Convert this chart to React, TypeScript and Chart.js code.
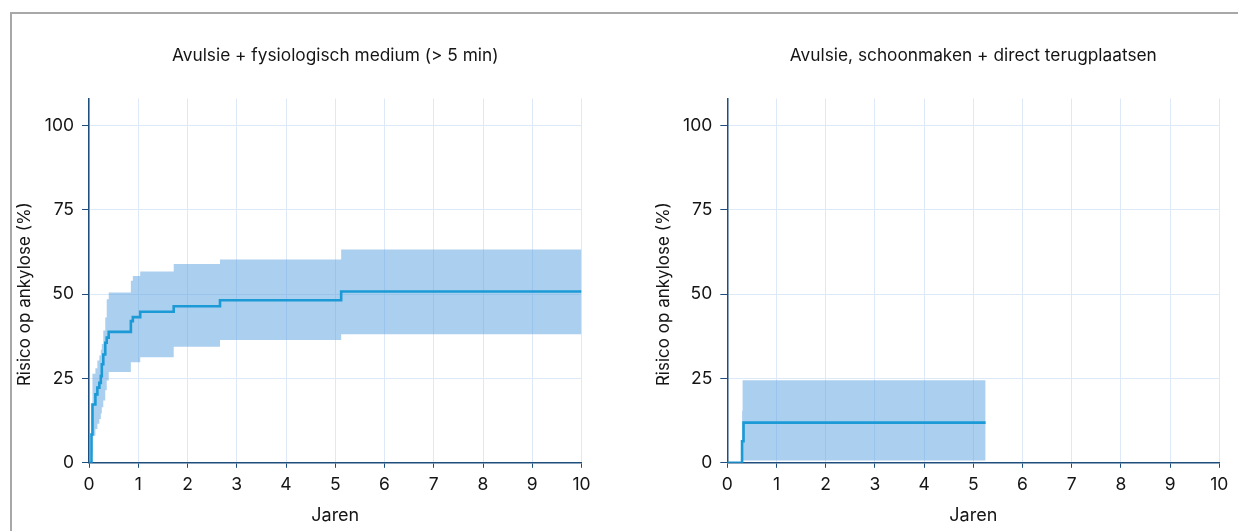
import React, { useEffect, useRef } from "react";
import { Chart, registerables } from "chart.js";

Chart.register(...registerables);

// ---------- data ----------
const xTicks = [0, 1, 2, 3, 4, 5, 6, 7, 8, 9, 10];
const yTicks = [0, 25, 50, 75, 100];

const titleA = "Avulsie + fysiologisch medium (> 5 min)";
const titleB = "Avulsie, schoonmaken + direct terugplaatsen";
const yTitle = "Risico op ankylose (%)";
const xTitle = "Jaren";

// Panel A: cumulative risk (step function)
const timesA = [0, 0.05, 0.07, 0.13, 0.17, 0.21, 0.24, 0.26, 0.29, 0.33, 0.36, 0.4, 0.85, 0.89, 1.04, 1.72, 2.66, 5.12, 10];
const riskA = [0, 8.4, 17.3, 20.3, 22.3, 23.7, 25.7, 29.2, 32.1, 35.6, 37.1, 38.8, 42.0, 43.2, 44.8, 46.4, 48.2, 50.8, 50.8];
// Panel A: confidence band
const bandTimesA = [0.05, 0.07, 0.13, 0.17, 0.21, 0.24, 0.26, 0.29, 0.33, 0.36, 0.4, 0.85, 0.89, 1.04, 1.72, 2.66, 5.12, 10];
const upperA = [13, 26.4, 28, 30.3, 31.8, 33.5, 35.2, 39.2, 43.1, 48.5, 50.5, 54, 55.4, 56.7, 58.9, 60.3, 63.2, 63.2];
const lowerA = [3, 8, 10, 11.6, 13, 14.6, 16.5, 18.5, 21.5, 24.4, 26.9, 29.8, 29.8, 31.3, 34.4, 36.4, 38.1, 38.1];

// Panel B
const timesB = [0, 0.3, 0.33, 5.25];
const riskB = [0, 6.4, 11.9, 11.9];
const bandTimesB = [0.3, 0.31, 5.25];
const upperB = [15.4, 24.5, 24.5];
const lowerB = [0.7, 0.7, 0.7];

// ---------- style ----------
const FONT = "Inter, 'Liberation Sans', Arial, sans-serif";
const LINE = "#1b9ad6";
const BAND = "rgba(88,160,224,0.5)";
const AXIS = "#1d4e7e";
const GRID = "#dde9f6";
const TEXT = "#151515";

type PanelProps = {
  left: number;
  width: number;
  areaLeft: number;
  areaRight: number;
  yTitleX: number;
  title: string;
  times: number[];
  risk: number[];
  bandTimes: number[];
  upper: number[];
  lower: number[];
};

const H = 531;
const AREA_TOP = 98.5;
const AREA_BOTTOM = 462.8;
const Y_AXIS_W = 50;
const X_AXIS_H = 45;

function Panel(p: PanelProps) {
  const ref = useRef<HTMLCanvasElement | null>(null);
  useEffect(() => {
    if (!ref.current) return;
    const pts = (xs: number[], ys: number[]) => xs.map((x, i) => ({ x, y: ys[i] }));
    const textPlugin = {
      id: "panelText",
      afterDraw(chart: any) {
        const ctx = chart.ctx;
        const a = chart.chartArea;
        const cx = (a.left + a.right) / 2;
        ctx.save();
        ctx.fillStyle = TEXT;
        ctx.textAlign = "center";
        ctx.textBaseline = "middle";
        ctx.font = `17.3px ${FONT}`;
        ctx.fillText(p.title, cx, 56);
        ctx.font = `18px ${FONT}`;
        ctx.fillText(xTitle, cx, 516);
        ctx.font = `17px ${FONT}`;
        const yc = chart.scales.y.getPixelForValue(50);
        ctx.translate(p.yTitleX, yc);
        ctx.rotate(-Math.PI / 2);
        ctx.fillText(yTitle, 0, 0);
        ctx.restore();
      },
    };
    const chart = new Chart(ref.current, {
      type: "line",
      data: {
        datasets: [
          {
            data: pts(p.times, p.risk),
            borderColor: LINE,
            borderWidth: 2.6,
            stepped: "before",
            pointRadius: 0,
            fill: false,
          },
          {
            data: pts(p.bandTimes, p.upper),
            borderWidth: 0,
            borderColor: "rgba(0,0,0,0)",
            backgroundColor: BAND,
            stepped: "before",
            pointRadius: 0,
            fill: "+1",
          },
          {
            data: pts(p.bandTimes, p.lower),
            borderWidth: 0,
            borderColor: "rgba(0,0,0,0)",
            stepped: "before",
            pointRadius: 0,
            fill: false,
          },
        ],
      } as any,
      options: {
        animation: false,
        responsive: false,
        maintainAspectRatio: false,
        events: [],
        layout: {
          padding: {
            left: p.areaLeft - Y_AXIS_W,
            right: p.width - p.areaRight,
            top: AREA_TOP,
            bottom: H - AREA_BOTTOM - X_AXIS_H,
          },
        },
        plugins: { legend: { display: false }, tooltip: { enabled: false }, title: { display: false } },
        scales: {
          x: {
            type: "linear",
            min: 0,
            max: 10,
            afterFit: (s: any) => {
              s.height = X_AXIS_H;
            },
            afterBuildTicks: (s: any) => {
              s.ticks = xTicks.map((v) => ({ value: v }));
            },
            grid: { color: GRID, lineWidth: 1, tickColor: AXIS, tickLength: 5, drawTicks: true },
            border: { color: AXIS, width: 1.5 },
            ticks: { color: TEXT, font: { family: FONT, size: 17.5 }, padding: 6, maxRotation: 0, autoSkip: false },
          },
          y: {
            type: "linear",
            min: 0,
            max: 108,
            afterFit: (s: any) => {
              s.width = Y_AXIS_W;
            },
            afterBuildTicks: (s: any) => {
              s.ticks = yTicks.map((v) => ({ value: v }));
            },
            grid: { color: GRID, lineWidth: 1, tickColor: AXIS, tickLength: 7, drawTicks: true },
            border: { color: AXIS, width: 1.5 },
            ticks: { color: TEXT, font: { family: FONT, size: 17.5 }, padding: 8, autoSkip: false },
          },
        },
      } as any,
      plugins: [textPlugin],
    });
    return () => chart.destroy();
  }, []);
  return (
    <canvas
      ref={ref}
      width={p.width}
      height={H}
      style={{ position: "absolute", left: p.left, top: 0, width: p.width, height: H }}
    />
  );
}

export default function App() {
  return (
    <div style={{ position: "fixed", left: 0, top: 0, width: 1238, height: 531, background: "#fff", overflow: "hidden" }}>
      <div
        style={{
          position: "absolute",
          left: 10,
          top: 12,
          width: 1240,
          height: 530,
          borderTop: "2px solid #a8a8a8",
          borderLeft: "2px solid #a8a8a8",
        }}
      />
      <Panel
        left={0}
        width={620}
        areaLeft={89}
        areaRight={581.5}
        yTitleX={25}
        title={titleA}
        times={timesA}
        risk={riskA}
        bandTimes={bandTimesA}
        upper={upperA}
        lower={lowerA}
      />
      <Panel
        left={620}
        width={618}
        areaLeft={107.3}
        areaRight={599.3}
        yTitleX={44}
        title={titleB}
        times={timesB}
        risk={riskB}
        bandTimes={bandTimesB}
        upper={upperB}
        lower={lowerB}
      />
    </div>
  );
}
